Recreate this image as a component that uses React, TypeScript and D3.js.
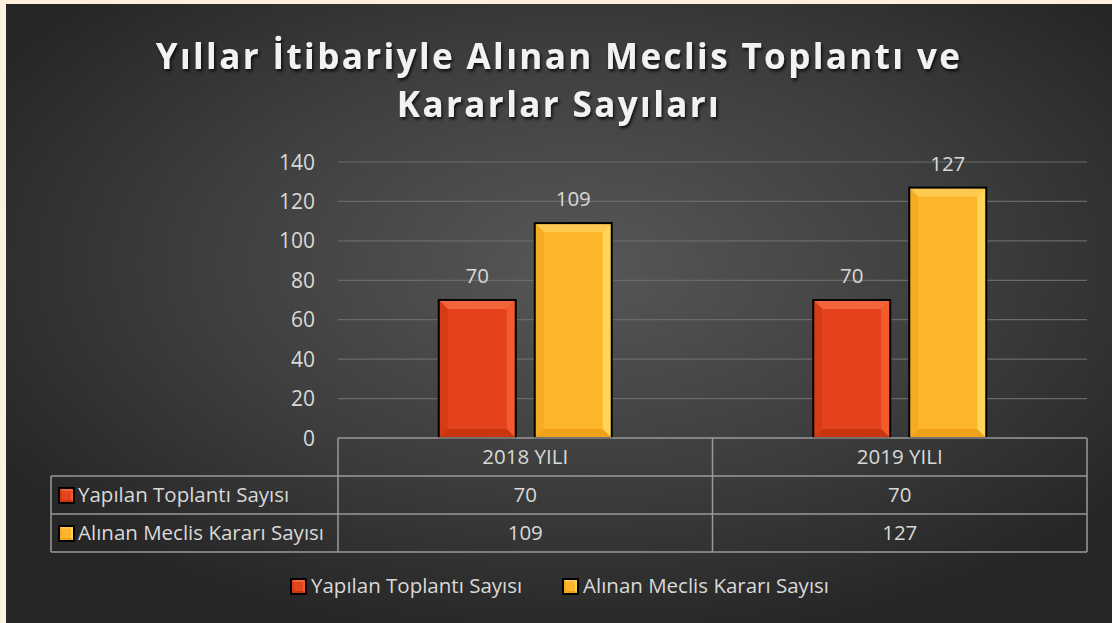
import React from 'react'
import * as d3 from 'd3'

const years = ['2018 YILI', '2019 YILI']
const seriesNames = ['Yapılan Toplantı Sayısı', 'Alınan Meclis Kararı Sayısı']
const toplanti = [70, 70]
const karar = [109, 127]
const yTicks = [0, 20, 40, 60, 80, 100, 120, 140]
const titleLines = ['Yıllar İtibariyle Alınan Meclis Toplantı ve', 'Kararlar Sayıları']

const W = 1112
const H = 623
const plot = { left: 338, right: 1087, top: 162, bottom: 438 }
const rowH = 38
const tableLeft = 51
const font = '"Open Sans", sans-serif'
const txt = '#d9d9d9'
const lineCol = '#9a9a9a'
const fs = 20.5

// base, lighter top/right, darker bottom/left
const palette = [
  { base: '#e4431d', top: '#f2653a', right: '#f25a2f', bottom: '#c9350f', left: '#d63b16' },
  { base: '#fdb62b', top: '#fec94f', right: '#ffd55a', bottom: '#f0a21a', left: '#f5ac22' },
]

const Bevel = ({ x, y, w, h, c, inset }: any) => {
  const i = Math.min(inset, w / 2, h / 2)
  const x2 = x + w
  const y2 = y + h
  return (
    <g>
      <rect x={x} y={y} width={w} height={h} fill={c.base} />
      <path d={`M${x},${y}L${x2},${y}L${x2 - i},${y + i}L${x + i},${y + i}Z`} fill={c.top} />
      <path d={`M${x2},${y}L${x2},${y2}L${x2 - i},${y2 - i}L${x2 - i},${y + i}Z`} fill={c.right} />
      <path d={`M${x},${y2}L${x2},${y2}L${x2 - i},${y2 - i}L${x + i},${y2 - i}Z`} fill={c.bottom} />
      <path d={`M${x},${y}L${x + i},${y + i}L${x + i},${y2 - i}L${x},${y2}Z`} fill={c.left} />
      <rect x={x} y={y} width={w} height={h} fill="none" stroke="#000" strokeWidth={2} />
    </g>
  )
}

export default function App() {
  const series = [toplanti, karar]
  const x0 = d3.scaleBand().domain(years).range([plot.left, plot.right])
  const x1 = d3.scaleBand().domain(seriesNames).range([0, 173]).paddingInner(0.198)
  const y = d3.scaleLinear().domain([0, 140]).range([plot.bottom, plot.top])
  const groupOff = (x0.bandwidth() - 173) / 2

  const tableTop = plot.bottom
  const legendY = 586
  const legendItems = [
    { x: 291, name: seriesNames[0], c: palette[0] },
    { x: 563, name: seriesNames[1], c: palette[1] },
  ]

  return (
    <svg width={W} height={H} style={{ position: 'absolute', left: 0, top: 0 }}>
      <defs>
        <radialGradient id="bg" cx="52%" cy="42%" r="62%">
          <stop offset="0%" stopColor="#575757" />
          <stop offset="55%" stopColor="#3e3e3e" />
          <stop offset="100%" stopColor="#262626" />
        </radialGradient>
        <filter id="shadow" x="-10%" y="-30%" width="120%" height="160%">
          <feDropShadow dx="1.5" dy="2.5" stdDeviation="1.5" floodColor="#000" floodOpacity="0.75" />
        </filter>
      </defs>
      <rect width={W} height={H} fill="#fdf0dc" />
      <rect x={6} y={4} width={W - 6} height={H - 4} fill="url(#bg)" />

      {titleLines.map((t, i) => (
        <text
          key={i}
          x={559}
          y={69 + i * 48}
          textAnchor="middle"
          fill="#f2f2f2"
          fontFamily={font}
          fontWeight={700}
          fontSize={35}
          letterSpacing={2.4}
          filter="url(#shadow)"
        >
          {t}
        </text>
      ))}

      {/* grid + y ticks */}
      {yTicks.map(t => (
        <g key={t}>
          {t > 0 && (
            <line x1={plot.left} x2={plot.right} y1={y(t)} y2={y(t)} stroke="#6a6a6a" strokeWidth={1.2} />
          )}
          <text x={315} y={y(t)} dy="0.36em" textAnchor="end" fill={txt} fontFamily={font} fontSize={21}>
            {t}
          </text>
        </g>
      ))}

      {/* bars */}
      {years.map((yr, ci) =>
        seriesNames.map((s, si) => {
          const v = series[si][ci]
          const bx = (x0(yr) as number) + groupOff + (x1(s) as number)
          const by = y(v)
          const bw = x1.bandwidth()
          return (
            <g key={yr + s}>
              <Bevel x={bx} y={by} w={bw} h={y(0) - by} c={palette[si]} inset={9} />
              <text
                x={bx + bw / 2}
                y={by - 17}
                textAnchor="middle"
                fill={txt}
                fontFamily={font}
                fontSize={fs}
              >
                {v}
              </text>
            </g>
          )
        })
      )}

      {/* data table */}
      <g stroke={lineCol} strokeWidth={1.5} fill="none">
        <line x1={plot.left} x2={plot.right} y1={tableTop} y2={tableTop} />
        <line x1={tableLeft} x2={plot.right} y1={tableTop + rowH} y2={tableTop + rowH} />
        <line x1={tableLeft} x2={plot.right} y1={tableTop + rowH * 2} y2={tableTop + rowH * 2} />
        <line x1={tableLeft} x2={plot.right} y1={tableTop + rowH * 3} y2={tableTop + rowH * 3} />
        <line x1={tableLeft} x2={tableLeft} y1={tableTop + rowH} y2={tableTop + rowH * 3} />
        <line x1={plot.left} x2={plot.left} y1={tableTop} y2={tableTop + rowH * 3} />
        {years.map(yr => (
          <line
            key={yr}
            x1={(x0(yr) as number) + x0.bandwidth()}
            x2={(x0(yr) as number) + x0.bandwidth()}
            y1={tableTop}
            y2={tableTop + rowH * 3}
          />
        ))}
      </g>
      {years.map(yr => (
        <text
          key={yr}
          x={(x0(yr) as number) + x0.bandwidth() / 2}
          y={tableTop + rowH / 2}
          dy="0.36em"
          textAnchor="middle"
          fill={txt}
          fontFamily={font}
          fontSize={fs}
        >
          {yr}
        </text>
      ))}
      {seriesNames.map((s, si) => {
        const ry = tableTop + rowH * (si + 1)
        return (
          <g key={s}>
            <Bevel x={59} y={ry + rowH / 2 - 7} w={15} h={15} c={palette[si]} inset={3} />
            <text x={78} y={ry + rowH / 2} dy="0.36em" fill={txt} fontFamily={font} fontSize={fs}>
              {s}
            </text>
            {years.map((yr, ci) => (
              <text
                key={yr}
                x={(x0(yr) as number) + x0.bandwidth() / 2}
                y={ry + rowH / 2}
                dy="0.36em"
                textAnchor="middle"
                fill={txt}
                fontFamily={font}
                fontSize={fs}
              >
                {series[si][ci]}
              </text>
            ))}
          </g>
        )
      })}

      {/* legend */}
      {legendItems.map(l => (
        <g key={l.name}>
          <Bevel x={l.x} y={legendY - 7} w={15} h={15} c={l.c} inset={3} />
          <text x={l.x + 20} y={legendY} dy="0.36em" fill={txt} fontFamily={font} fontSize={fs}>
            {l.name}
          </text>
        </g>
      ))}
    </svg>
  )
}
